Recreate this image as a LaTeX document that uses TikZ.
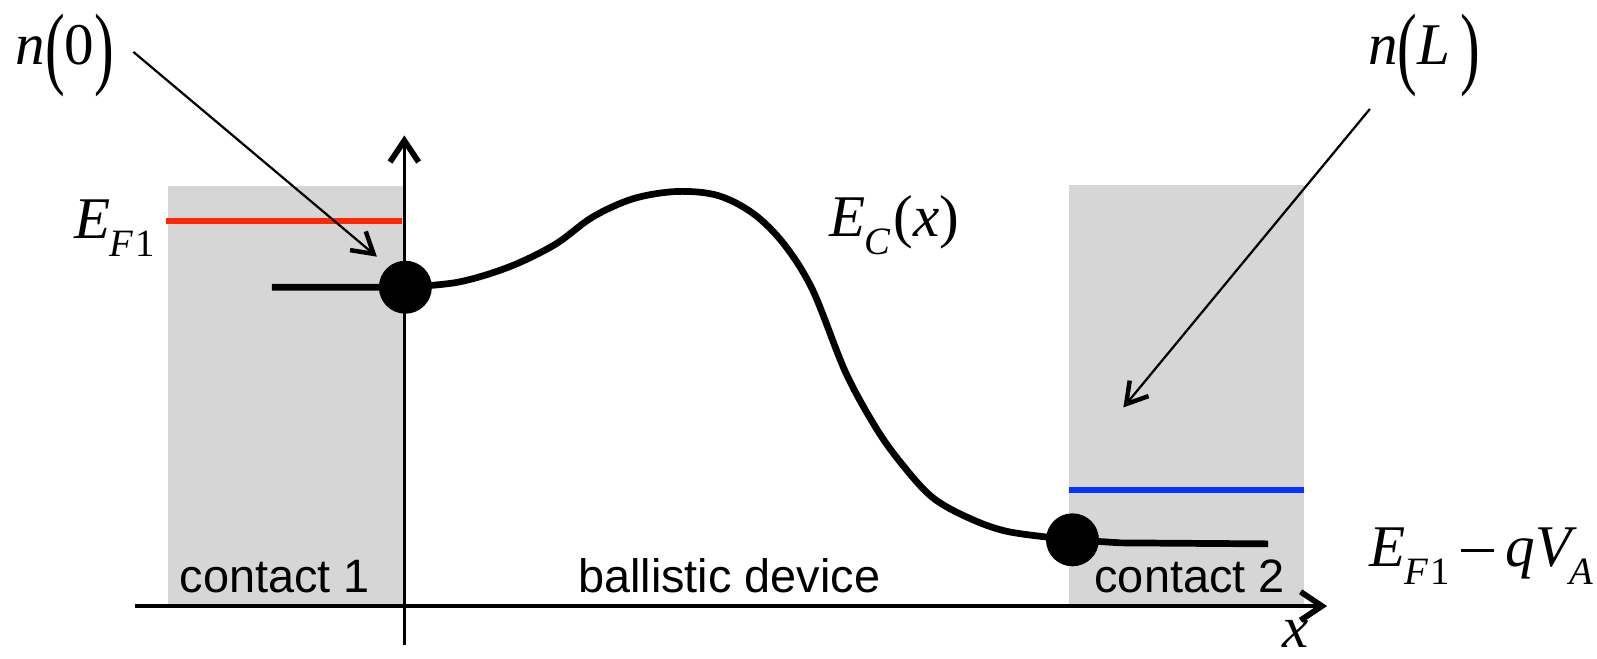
\documentclass[tikz,border=0pt]{standalone}
\usepackage{fontspec}
\usepackage{graphicx}
\setmainfont{Liberation Serif}
\setsansfont{Liberation Sans}
\usetikzlibrary{arrows.meta}
\newcommand{\mi}[1]{\textit{#1}}
\newcommand{\bigpar}[1]{\raisebox{-0.22em}{\scalebox{1}[1.55]{#1}}}
\newcommand{\sbs}[1]{\raisebox{-0.3em}{\fontsize{19}{19}\selectfont #1}}
\newcommand{\longminus}{\rule[0.24em]{0.55em}{1.6pt}}
\definecolor{contactgray}{RGB}{214,214,214}
\definecolor{fermired}{RGB}{255,40,0}
\definecolor{fermiblue}{RGB}{10,50,255}
\tikzset{
  axis/.style={line width=1.6pt,-{Straight Barb[length=10.5pt,width=14pt,line width=2.8pt]}},
  ptr/.style={line width=1.1pt,-{Straight Barb[length=10pt,width=12pt,line width=2.2pt]}},
  band/.style={line width=3.3pt},
  level/.style={line width=2.9pt},
  dotnode/.style={circle,fill=black,minimum size=26pt,inner sep=0pt},
  mathlbl/.style={font=\fontsize{29}{29}\selectfont,inner sep=0pt},
  txtlbl/.style={font=\sffamily\fontsize{23}{23}\selectfont,inner sep=0pt},
}
\begin{document}
\begin{tikzpicture}[x=0.5pt,y=-0.5pt]
\useasboundingbox (0,0) rectangle (1568,647);
% contacts
\fill[contactgray] (165,183) rectangle (397,593);
\fill[contactgray] (1050,182) rectangle (1280,593);
% Fermi levels
\draw[level,fermired] (163,217) -- (395,217);
\draw[level,fermiblue] (1050,481) -- (1280,481);
% axes
\coordinate (yb) at (397,633);
\coordinate (yt) at (397,133);
\coordinate (xl) at (133,595);
\coordinate (xr) at (1303,595);
\draw[axis] (yb) -- (yt);
\draw[axis] (xl) -- (xr);
% dots
\coordinate (d1c) at (398,282);
\coordinate (d2c) at (1053,530);
% band edge
\draw[band] (267,282) -- (d1c)
  plot[smooth,tension=0.55] coordinates {(398,282) (450,277) (500,262) (545,240) (582,213) (622,195) (665,188) (705,192) (740,210) (770,240) (798,285) (830,365) (860,420) (885,455) (915,488) (950,508) (990,522) (1053,530)}
  -- (1100,533) -- (1245,534);
\node[dotnode] (d1) at (d1c) {};
\node[dotnode] (d2) at (d2c) {};
% labels
\node[mathlbl,anchor=base west] (n0) at (15,63) {\mi{n}\bigpar{(}0\bigpar{)}};
\node[mathlbl,anchor=base west] (nL) at (1343,63) {\mi{n}\bigpar{(}\mi{L}\,\bigpar{)}};
\node[mathlbl,anchor=base west] (ef1) at (73,234) {\mi{E}\kern-0.02em\sbs{\mi{F}\kern0.05em 1}};
\node[mathlbl,anchor=base west] (ec) at (814,232) {\mi{E}\kern-0.02em\sbs{\mi{C}}\kern0.05em(\mi{x})};
\node[mathlbl,anchor=base west] (efq) at (1344,556) {\mi{E}\kern-0.02em\sbs{\mi{F}\kern0.05em 1}\kern0.2em\longminus\kern0.2em\mi{q}\mi{V}\kern-0.12em\sbs{\mi{A}}};
\node[mathlbl,anchor=base] (xlab) at (1272,636) {\mi{x}};
\node[txtlbl,anchor=base] (c1) at (270,582) {contact 1};
\node[txtlbl,anchor=base] (bd) at (716,582) {ballistic device};
\node[txtlbl,anchor=base] (c2) at (1168,582) {contact 2};
% pointers
\coordinate (n0tail) at (131,51);
\coordinate (n0tip) at (370,252);
\coordinate (nLtail) at (1345,107);
\coordinate (nLtip) at (1103,400);
\draw[ptr] (n0tail) -- (n0tip);
\draw[ptr] (nLtail) -- (nLtip);
\end{tikzpicture}
\end{document}
